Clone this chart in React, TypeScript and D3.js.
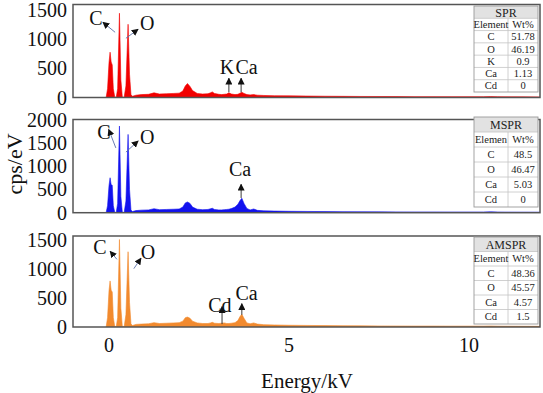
import React from 'react'
import * as d3 from 'd3'

// energy grid (kV) shared by the three spectra
const energy = [
  -0.08, -0.04, 0.0, 0.03, 0.06, 0.09, 0.12, 0.16, 0.2, 0.24,
  0.29, 0.33, 0.37, 0.42, 0.47, 0.53, 0.57, 0.61, 0.65, 0.75,
  0.9, 1.1, 1.25, 1.4, 1.6, 1.8, 1.95, 2.05, 2.12, 2.18,
  2.25, 2.32, 2.45, 2.6, 2.75, 2.82, 2.87, 2.93, 3.05, 3.13,
  3.2, 3.27, 3.33, 3.4, 3.5, 3.58, 3.64, 3.69, 3.75, 3.83,
  3.92, 4.02, 4.12, 4.3, 4.6, 5.0, 5.5, 6.0, 6.5, 7.0,
  7.5, 8.0, 8.5, 9.0, 9.5, 10.0, 10.4, 10.6, 10.8, 11.0,
  11.5, 12.0,
]

const sprCounts = [
  0, 150, 600, 780, 610, 560, 150, 10, 0, 150,
  1450, 300, 10, 0, 200, 1260, 400, 50, 20, 40,
  50, 55, 80, 60, 65, 70, 75, 110, 200, 240,
  190, 120, 70, 60, 65, 80, 96, 70, 55, 50,
  55, 60, 80, 60, 50, 55, 75, 90, 70, 50,
  45, 50, 40, 35, 30, 28, 25, 22, 20, 18,
  17, 16, 15, 15, 14, 14, 14, 16, 14, 12,
  11, 10,
]

const msprCounts = [
  0, 150, 580, 750, 600, 590, 150, 10, 0, 200,
  1860, 350, 10, 0, 250, 1680, 500, 60, 25, 45,
  55, 60, 85, 65, 70, 75, 80, 120, 210, 230,
  200, 120, 75, 65, 70, 85, 95, 70, 60, 60,
  65, 70, 75, 90, 120, 180, 260, 310, 200, 90,
  60, 80, 50, 40, 35, 30, 27, 24, 22, 20,
  18, 17, 16, 16, 15, 15, 15, 20, 15, 13,
  12, 11,
]

const amsprCounts = [
  0, 160, 620, 790, 630, 600, 160, 10, 0, 160,
  1500, 320, 10, 0, 210, 1290, 420, 55, 25, 45,
  50, 55, 75, 60, 65, 70, 75, 100, 160, 170,
  150, 100, 70, 60, 60, 70, 80, 65, 60, 65,
  70, 60, 60, 65, 75, 110, 180, 220, 150, 70,
  55, 70, 50, 40, 35, 30, 27, 24, 22, 20,
  18, 17, 16, 16, 15, 15, 15, 17, 14, 13,
  12, 11,
]

const xTicks = [0, 5, 10]
const sprTicks = [0, 500, 1000, 1500]
const msprTicks = [0, 500, 1000, 1500, 2000]
const amsprTicks = [0, 500, 1000, 1500]

const sprElements = ['Element', 'C', 'O', 'K', 'Ca', 'Cd']
const sprWt = ['Wt%', '51.78', '46.19', '0.9', '1.13', '0']
const msprElements = ['Elemen', 'C', 'O', 'Ca', 'Cd']
const msprWt = ['Wt%', '48.5', '46.47', '5.03', '0']
const amsprElements = ['Element', 'C', 'O', 'Ca', 'Cd']
const amsprWt = ['Wt%', '48.36', '45.57', '4.57', '1.5']

// peak labels: text position and arrow tail -> head, in kV / counts
const sprNotes = [
  { label: 'C', tx: -0.36, ty: 1362, x1: 0.17, y1: 1122, x2: -0.17, y2: 1294 },
  { label: 'O', tx: 1.06, ty: 1277, x1: 0.47, y1: 1019, x2: 0.81, y2: 1174 },
  { label: 'K', tx: 3.28, ty: 522, x1: 3.33, y1: 91, x2: 3.33, y2: 332 },
  { label: 'Ca', tx: 3.82, ty: 522, x1: 3.67, y1: 91, x2: 3.67, y2: 332 },
]
const msprNotes = [
  { label: 'C', tx: -0.14, ty: 1730, x1: 0.19, y1: 1390, x2: -0.01, y2: 1790 },
  { label: 'O', tx: 1.06, ty: 1625, x1: 0.47, y1: 1300, x2: 0.81, y2: 1540 },
  { label: 'Ca', tx: 3.64, ty: 940, x1: 3.67, y1: 315, x2: 3.67, y2: 610 },
]
const amsprNotes = [
  { label: 'C', tx: -0.25, ty: 1370, x1: 0.22, y1: 1160, x2: 0.03, y2: 1300 },
  { label: 'O', tx: 1.08, ty: 1280, x1: 0.69, y1: 1000, x2: 0.89, y2: 1180 },
  { label: 'Cd', tx: 3.08, ty: 380, x1: 3.14, y1: 50, x2: 3.14, y2: 350 },
  { label: 'Ca', tx: 3.82, ty: 590, x1: 3.69, y1: 210, x2: 3.69, y2: 400 },
]

const FONT = '"Liberation Serif", "Times New Roman", serif'
const W = 543
const H = 393
const left = 73
const right = 540

const panels = [
  { name: 'SPR', counts: sprCounts, color: '#f20000', top: 4.5, bottom: 97.5, max: 1600, ticks: sprTicks,
    elements: sprElements, wt: sprWt, tTop: 6, tBottom: 92, notes: sprNotes },
  { name: 'MSPR', counts: msprCounts, color: '#1212ee', top: 119.5, bottom: 212.7, max: 2000, ticks: msprTicks,
    elements: msprElements, wt: msprWt, tTop: 117, tBottom: 207, notes: msprNotes },
  { name: 'AMSPR', counts: amsprCounts, color: '#f28a2e', top: 236, bottom: 327, max: 1560, ticks: amsprTicks,
    elements: amsprElements, wt: amsprWt, tTop: 237, tBottom: 324, notes: amsprNotes },
]

const Panel = ({ p, i, x }) => {
  const y = d3.scaleLinear().domain([0, p.max]).range([p.bottom, p.top])
  const pts = energy.map((e, k) => [e, p.counts[k]])
  const area = d3.area<number[]>()
    .x(d => x(d[0]))
    .y0(y(0))
    .y1(d => y(d[1]))
  const rows = [p.name, ...p.elements]
  const rh = (p.tBottom - p.tTop) / rows.length
  const tl = 474
  const tm = 508
  const tr = 538
  return (
    <g>
      <clipPath id={`clip${i}`}>
        <rect x={left} y={p.top} width={right - left} height={p.bottom - p.top} />
      </clipPath>
      <rect x={left} y={p.top} width={right - left} height={p.bottom - p.top} fill="#fff" />
      <path d={area(pts)} fill={p.color} stroke={p.color} strokeWidth={0.6} clipPath={`url(#clip${i})`} />
      <rect x={left} y={p.top} width={right - left} height={p.bottom - p.top} fill="none" stroke="#555" strokeWidth={1.5} />
      {p.ticks.map(t => (
        <text key={t} x={67} y={y(t)} textAnchor="end" dominantBaseline="central" fontSize={20} fontFamily={FONT} fill="#111">{t}</text>
      ))}
      {p.notes.map((n, k) => (
        <g key={k}>
          <line x1={x(n.x1)} y1={y(n.y1)} x2={x(n.x2)} y2={y(n.y2)} stroke={n.x1 === n.x2 ? '#222' : '#5a6fa8'} strokeWidth={0.9} markerEnd="url(#arrowHead)" />
          <text x={x(n.tx)} y={y(n.ty)} textAnchor="middle" dominantBaseline="central" fontSize={20} fontFamily={FONT} fill="#111">{n.label}</text>
        </g>
      ))}
      {/* composition table */}
      <rect x={tl} y={p.tTop} width={tr - tl} height={p.tBottom - p.tTop} fill="#fff" />
      <rect x={tl} y={p.tTop} width={tr - tl} height={rh} fill="#e2e2e2" />
      {rows.map((r, k) => k > 0 && (
        <line key={`h${k}`} x1={tl} x2={tr} y1={p.tTop + k * rh} y2={p.tTop + k * rh} stroke="#c4c4c4" strokeWidth={0.8} />
      ))}
      <line x1={tm} x2={tm} y1={p.tTop + rh} y2={p.tBottom} stroke="#c4c4c4" strokeWidth={0.8} />
      <rect x={tl} y={p.tTop} width={tr - tl} height={p.tBottom - p.tTop} fill="none" stroke="#9a9a9a" strokeWidth={0.9} />
      <text x={(tl + tr) / 2} y={p.tTop + rh / 2 + 0.5} textAnchor="middle" dominantBaseline="central" fontSize={12} fontFamily={FONT} fill="#222">{p.name}</text>
      {p.elements.map((el, k) => (
        <g key={`r${k}`}>
          <text x={(tl + tm) / 2} y={p.tTop + (k + 1.5) * rh} textAnchor="middle" dominantBaseline="central" fontSize={10.5} fontFamily={FONT} fill="#222">{el}</text>
          <text x={(tm + tr) / 2} y={p.tTop + (k + 1.5) * rh} textAnchor="middle" dominantBaseline="central" fontSize={10.5} fontFamily={FONT} fill="#222">{p.wt[k]}</text>
        </g>
      ))}
    </g>
  )
}

export default function App() {
  const x = d3.scaleLinear().domain([-1, 12]).range([left, right + 1])
  return (
    <svg width={W} height={H} viewBox={`0 0 ${W} ${H}`} style={{ position: 'fixed', left: 0, top: 0, background: '#fff' }}>
      <defs>
        <marker id="arrowHead" viewBox="0 0 10 10" refX={9} refY={5} markerWidth={7} markerHeight={7} markerUnits="userSpaceOnUse" orient="auto">
          <path d="M0,0 L10,5 L0,10 z" fill="#111" />
        </marker>
      </defs>
      <rect width={W} height={H} fill="#fff" />
      {panels.map((p, i) => <Panel key={p.name} p={p} i={i} x={x} />)}
      {xTicks.map(t => (
        <text key={t} x={x(t)} y={345} textAnchor="middle" dominantBaseline="central" fontSize={20} fontFamily={FONT} fill="#111">{t}</text>
      ))}
      <text x={307} y={381} textAnchor="middle" dominantBaseline="central" fontSize={21} fontFamily={FONT} fill="#111">Energy/kV</text>
      <text transform="translate(14,164) rotate(-90)" textAnchor="middle" dominantBaseline="central" fontSize={22} fontFamily={FONT} fill="#111">cps/eV</text>
    </svg>
  )
}
